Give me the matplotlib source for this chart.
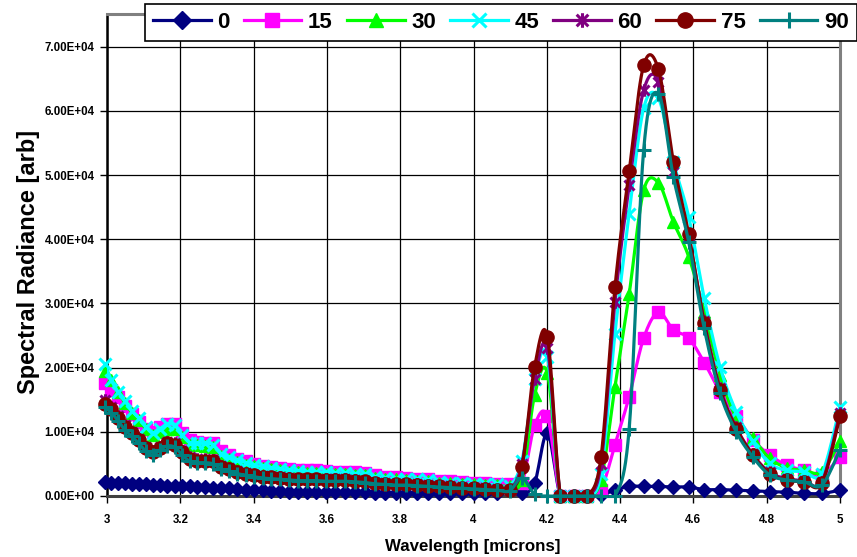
import numpy as np
import matplotlib
matplotlib.use("Agg")
import matplotlib.pyplot as plt
from matplotlib.lines import Line2D
from matplotlib.path import Path
from matplotlib.ticker import FuncFormatter, MultipleLocator

plt.rcParams['font.family'] = ['Liberation Sans', 'DejaVu Sans']

# ---- data ----
wavenumber = [3340, 3320, 3300, 3280, 3260, 3240, 3220, 3200, 3180, 3160,
              3140, 3120, 3100, 3080, 3060, 3040, 3020, 3000, 2980, 2960,
              2940, 2920, 2900, 2880, 2860, 2840, 2820, 2800, 2780, 2760,
              2740, 2720, 2700, 2680, 2660, 2640, 2620, 2600, 2580, 2560,
              2540, 2520, 2500, 2480, 2460, 2440, 2420, 2400, 2380, 2360,
              2340, 2320, 2300, 2280, 2260, 2240, 2220, 2200, 2180, 2160,
              2140, 2120, 2100, 2080, 2060, 2040, 2020, 2000]
wavelength = 10000.0 / np.array(wavenumber, dtype=float)

# values in units of 1e4
s0 = [0.22, 0.21, 0.20, 0.20, 0.19, 0.18, 0.18, 0.17, 0.17, 0.16,
      0.16, 0.15, 0.15, 0.14, 0.14, 0.13, 0.13, 0.12, 0.11, 0.10,
      0.09, 0.09, 0.08, 0.08, 0.07, 0.07, 0.07, 0.06, 0.06, 0.06,
      0.06, 0.06, 0.06, 0.05, 0.05, 0.05, 0.05, 0.05, 0.05, 0.05,
      0.05, 0.05, 0.05, 0.05, 0.05, 0.09, 0.04, 0.20, 0.98, 0.00,
      0.00, 0.00, 0.02, 0.09, 0.15, 0.15, 0.15, 0.14, 0.14, 0.10,
      0.10, 0.09, 0.08, 0.07, 0.06, 0.04, 0.04, 0.09]
s15 = [1.76, 1.65, 1.55, 1.40, 1.28, 1.15, 1.05, 1.00, 1.08, 1.12,
       1.12, 0.98, 0.87, 0.84, 0.82, 0.82, 0.70, 0.64, 0.58, 0.55,
       0.50, 0.47, 0.45, 0.44, 0.42, 0.41, 0.40, 0.40, 0.39, 0.38,
       0.38, 0.37, 0.36, 0.32, 0.30, 0.29, 0.28, 0.27, 0.26, 0.24,
       0.23, 0.22, 0.21, 0.20, 0.19, 0.18, 0.20, 1.10, 1.24, 0.00,
       0.00, 0.00, 0.10, 0.80, 1.55, 2.46, 2.86, 2.59, 2.46, 2.08,
       1.62, 1.25, 0.88, 0.64, 0.48, 0.40, 0.33, 0.61]
s30 = [1.95, 1.80, 1.62, 1.45, 1.30, 1.18, 1.05, 0.95, 1.00, 1.05,
       1.05, 0.92, 0.80, 0.79, 0.78, 0.76, 0.63, 0.57, 0.53, 0.49,
       0.46, 0.44, 0.42, 0.40, 0.38, 0.37, 0.36, 0.36, 0.35, 0.34,
       0.34, 0.33, 0.32, 0.28, 0.27, 0.26, 0.25, 0.24, 0.23, 0.21,
       0.20, 0.19, 0.18, 0.17, 0.17, 0.15, 0.25, 1.57, 1.91, 0.00,
       0.00, 0.00, 0.25, 1.70, 3.15, 4.76, 4.88, 4.27, 3.73, 2.87,
       1.88, 1.21, 0.90, 0.59, 0.44, 0.40, 0.38, 0.85]
s45 = [2.05, 1.80, 1.62, 1.48, 1.33, 1.22, 1.08, 0.98, 1.05, 1.12,
       1.10, 0.95, 0.83, 0.82, 0.82, 0.80, 0.66, 0.60, 0.56, 0.52,
       0.48, 0.46, 0.44, 0.42, 0.40, 0.39, 0.38, 0.38, 0.37, 0.36,
       0.36, 0.35, 0.34, 0.30, 0.28, 0.27, 0.27, 0.26, 0.25, 0.22,
       0.21, 0.20, 0.19, 0.18, 0.18, 0.16, 0.55, 1.82, 2.17, 0.00,
       0.00, 0.00, 0.35, 2.53, 4.40, 6.04, 6.20, 5.20, 4.35, 3.08,
       2.01, 1.31, 0.85, 0.51, 0.40, 0.38, 0.35, 1.39]
s60 = [1.50, 1.38, 1.25, 1.10, 1.00, 0.89, 0.77, 0.70, 0.77, 0.84,
       0.82, 0.70, 0.60, 0.57, 0.57, 0.56, 0.47, 0.43, 0.39, 0.36,
       0.33, 0.31, 0.30, 0.29, 0.28, 0.27, 0.27, 0.27, 0.26, 0.26,
       0.26, 0.25, 0.24, 0.21, 0.20, 0.19, 0.19, 0.18, 0.17, 0.16,
       0.15, 0.14, 0.13, 0.12, 0.11, 0.10, 0.50, 1.83, 2.30, 0.00,
       0.00, 0.00, 0.50, 3.03, 4.84, 6.32, 6.45, 5.05, 4.05, 2.72,
       1.68, 1.07, 0.65, 0.37, 0.27, 0.24, 0.22, 1.30]
s75 = [1.44, 1.35, 1.22, 1.08, 0.98, 0.87, 0.75, 0.68, 0.75, 0.82,
       0.80, 0.68, 0.58, 0.55, 0.55, 0.55, 0.45, 0.42, 0.38, 0.35,
       0.32, 0.30, 0.29, 0.28, 0.27, 0.26, 0.26, 0.26, 0.25, 0.25,
       0.25, 0.24, 0.23, 0.20, 0.19, 0.18, 0.18, 0.17, 0.16, 0.15,
       0.14, 0.13, 0.12, 0.11, 0.10, 0.09, 0.45, 2.01, 2.48, 0.00,
       0.00, 0.00, 0.60, 3.25, 5.06, 6.71, 6.65, 5.21, 4.08, 2.69,
       1.65, 1.05, 0.64, 0.35, 0.25, 0.22, 0.20, 1.24]
s90 = [1.38, 1.30, 1.17, 1.03, 0.93, 0.82, 0.70, 0.64, 0.72, 0.78,
       0.76, 0.64, 0.54, 0.52, 0.52, 0.50, 0.42, 0.39, 0.35, 0.32,
       0.30, 0.28, 0.27, 0.26, 0.25, 0.24, 0.24, 0.24, 0.23, 0.23,
       0.23, 0.22, 0.21, 0.19, 0.18, 0.17, 0.17, 0.16, 0.15, 0.14,
       0.13, 0.12, 0.11, 0.10, 0.09, 0.08, 0.28, 0.03, 0.00, 0.00,
       0.00, 0.00, 0.00, 0.00, 1.05, 5.39, 6.27, 4.97, 3.96, 2.61,
       1.60, 1.00, 0.61, 0.33, 0.25, 0.22, 0.17, 0.72]

labels = ["0", "15", "30", "45", "60", "75", "90"]
series = [s0, s15, s30, s45, s60, s75, s90]
colors = ["#000080", "#FF00FF", "#00FF00", "#00FFFF", "#800080", "#800000", "#008080"]

# Excel-style "star" marker: an X with a vertical bar
star = Path([(-1, -1), (1, 1), (-1, 1), (1, -1), (0, -1.25), (0, 1.25)],
            [Path.MOVETO, Path.LINETO, Path.MOVETO, Path.LINETO,
             Path.MOVETO, Path.LINETO])
markers = ["D", "s", "^", "x", star, "o", "+"]
msizes = [7.5, 8.5, 9, 9, 9, 9.5, 10.5]
open_marker = [False, False, False, True, True, False, True]


def smooth(x, y, n=12):
    pts = np.column_stack([x, y])
    P = np.vstack([pts[0], pts, pts[-1]])
    out = []
    t = np.linspace(0, 1, n, endpoint=False)[:, None]
    for i in range(len(pts) - 1):
        p0, p1, p2, p3 = P[i], P[i + 1], P[i + 2], P[i + 3]
        c1 = p1 + (p2 - p0) / 6.0
        c2 = p2 - (p3 - p1) / 6.0
        seg = (1 - t) ** 3 * p1 + 3 * (1 - t) ** 2 * t * c1 + 3 * (1 - t) * t ** 2 * c2 + t ** 3 * p2
        out.append(seg)
    out.append(pts[-1:])
    return np.vstack(out)


W, H = 857, 557
fig = plt.figure(figsize=(W / 100, H / 100), dpi=100)
ax = fig.add_axes([107 / W, 61 / H, 733 / W, 482 / H])

handles = []
for lab, vals, col, mk, ms, op in zip(labels, series, colors, markers, msizes, open_marker):
    y = np.array(vals) * 1e4
    sm = smooth(wavelength, y)
    ax.plot(sm[:, 0], sm[:, 1], color=col, lw=2.3, zorder=3)
    mew = 2.2 if op else 1
    ax.plot(wavelength, y, linestyle="none", marker=mk, ms=ms, color=col,
            markeredgecolor=col, markerfacecolor=("none" if op else col),
            markeredgewidth=mew, zorder=3, clip_on=False)
    handles.append(Line2D([0], [0], color=col, lw=2.3, marker=mk, ms=ms + 1.5,
                          markeredgecolor=col,
                          markerfacecolor=("none" if op else col),
                          markeredgewidth=mew))

ax.set_xlim(3, 5)
ax.set_ylim(0, 7.51e4)
ax.xaxis.set_major_locator(MultipleLocator(0.2))
ax.yaxis.set_major_locator(MultipleLocator(1e4))
ax.xaxis.set_major_formatter(FuncFormatter(lambda v, p: f"{v:g}"))
ax.yaxis.set_major_formatter(FuncFormatter(lambda v, p: f"{v:.2E}"))
ax.grid(True, color="black", lw=0.9, zorder=1)
ax.set_axisbelow(True)
ax.tick_params(axis="both", direction="out", length=5, width=1, labelsize=8.3,
               color="black")
ax.tick_params(axis="x", pad=8)
ax.tick_params(axis="y", pad=4)
for lbl in ax.get_xticklabels() + ax.get_yticklabels():
    lbl.set_fontweight("bold")

ax.spines["left"].set_color("black")
ax.spines["left"].set_linewidth(1.8)
ax.spines["bottom"].set_color("#404040")
ax.spines["bottom"].set_linewidth(2.2)
ax.spines["top"].set_color("#808080")
ax.spines["top"].set_linewidth(2.2)
ax.spines["right"].set_color("#808080")
ax.spines["right"].set_linewidth(2.2)

fig.text(29 / W, 1 - 262 / H, "Spectral Radiance [arb]", rotation=90,
         ha="center", va="center", fontsize=17, fontweight="bold")
fig.text(473 / W, 1 - 546 / H, "Wavelength [microns]", ha="center",
         va="center", fontsize=12.2, fontweight="bold")

leg = fig.legend(handles, labels, loc="upper left",
                 bbox_to_anchor=(145 / W, 1 - 4 / H), ncol=7,
                 prop={"size": 16, "weight": "bold"}, handlelength=2.6,
                 handletextpad=0.3, columnspacing=0.63, borderpad=0.35,
                 borderaxespad=0, frameon=True, fancybox=False)
leg.get_frame().set_edgecolor("black")
leg.get_frame().set_linewidth(1.2)
leg.get_frame().set_alpha(1)

fig.savefig("out.png", dpi=100)
